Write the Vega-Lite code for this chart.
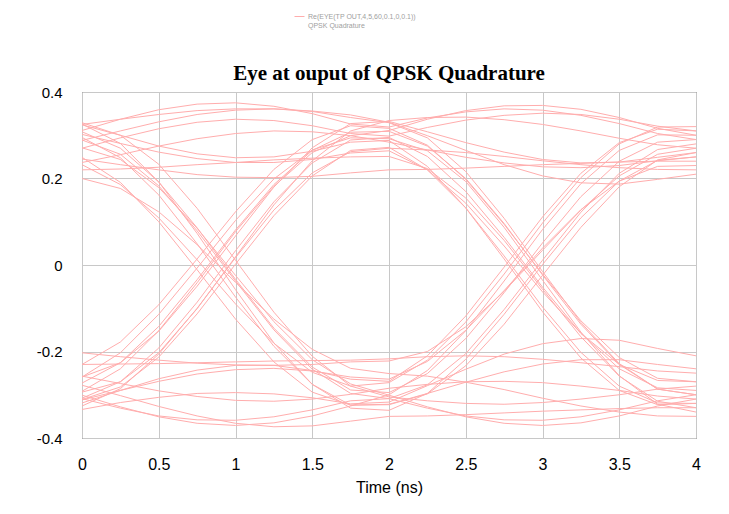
{
"$schema": "https://vega.github.io/schema/vega-lite/v6.json",
"width": 614, "height": 346,
"autosize": {"type": "none"},
"padding": {"left": 82, "top": 92, "right": 33, "bottom": 76},
"background": "white",
"title": {"text": "Eye at ouput of QPSK Quadrature", "font": "Liberation Serif", "fontSize": 21, "fontWeight": "bold", "color": "black", "offset": 10, "dy": 83, "anchor": "middle"},
"datasets": {"eye": [
{"k":1,"t":0,"v":0.311},{"k":1,"t":0.25,"v":0.337},{"k":1,"t":0.5,"v":0.359},{"k":1,"t":0.75,"v":0.372},{"k":1,"t":1,"v":0.375},{"k":1,"t":1.25,"v":0.367},{"k":1,"t":1.5,"v":0.35},{"k":1,"t":1.75,"v":0.326},{"k":1,"t":2,"v":0.319},{"k":1,"t":2.25,"v":0.34},{"k":1,"t":2.5,"v":0.354},{"k":1,"t":2.75,"v":0.361},{"k":1,"t":3,"v":0.358},{"k":1,"t":3.25,"v":0.346},{"k":1,"t":3.5,"v":0.327},{"k":1,"t":3.75,"v":0.304},{"k":1,"t":4,"v":0.29},
{"k":2,"t":0,"v":0.245},{"k":2,"t":0.25,"v":0.232},{"k":2,"t":0.5,"v":0.22},{"k":2,"t":0.75,"v":0.209},{"k":2,"t":1,"v":0.203},{"k":2,"t":1.25,"v":0.202},{"k":2,"t":1.5,"v":0.205},{"k":2,"t":1.75,"v":0.213},{"k":2,"t":2,"v":0.22},{"k":2,"t":2.25,"v":0.221},{"k":2,"t":2.5,"v":0.224},{"k":2,"t":2.75,"v":0.228},{"k":2,"t":3,"v":0.232},{"k":2,"t":3.25,"v":0.235},{"k":2,"t":3.5,"v":0.238},{"k":2,"t":3.75,"v":0.24},{"k":2,"t":4,"v":0.24},
{"k":3,"t":0,"v":0.325},{"k":3,"t":0.25,"v":0.337},{"k":3,"t":0.5,"v":0.348},{"k":3,"t":0.75,"v":0.357},{"k":3,"t":1,"v":0.361},{"k":3,"t":1.25,"v":0.361},{"k":3,"t":1.5,"v":0.356},{"k":3,"t":1.75,"v":0.347},{"k":3,"t":2,"v":0.33},{"k":3,"t":2.25,"v":0.299},{"k":3,"t":2.5,"v":0.265},{"k":3,"t":2.75,"v":0.232},{"k":3,"t":3,"v":0.206},{"k":3,"t":3.25,"v":0.19},{"k":3,"t":3.5,"v":0.187},{"k":3,"t":3.75,"v":0.198},{"k":3,"t":4,"v":0.21},
{"k":4,"t":0,"v":0.288},{"k":4,"t":0.25,"v":0.31},{"k":4,"t":0.5,"v":0.331},{"k":4,"t":0.75,"v":0.348},{"k":4,"t":1,"v":0.358},{"k":4,"t":1.25,"v":0.361},{"k":4,"t":1.5,"v":0.355},{"k":4,"t":1.75,"v":0.341},{"k":4,"t":2,"v":0.329},{"k":4,"t":2.25,"v":0.294},{"k":4,"t":2.5,"v":0.216},{"k":4,"t":2.75,"v":0.108},{"k":4,"t":3,"v":-0.015},{"k":4,"t":3.25,"v":-0.133},{"k":4,"t":3.5,"v":-0.228},{"k":4,"t":3.75,"v":-0.287},{"k":4,"t":4,"v":-0.3},
{"k":5,"t":0,"v":0.22},{"k":5,"t":0.25,"v":0.222},{"k":5,"t":0.5,"v":0.226},{"k":5,"t":0.75,"v":0.232},{"k":5,"t":1,"v":0.237},{"k":5,"t":1.25,"v":0.243},{"k":5,"t":1.5,"v":0.247},{"k":5,"t":1.75,"v":0.25},{"k":5,"t":2,"v":0.251},{"k":5,"t":2.25,"v":0.223},{"k":5,"t":2.5,"v":0.155},{"k":5,"t":2.75,"v":0.057},{"k":5,"t":3,"v":-0.056},{"k":5,"t":3.25,"v":-0.166},{"k":5,"t":3.5,"v":-0.257},{"k":5,"t":3.75,"v":-0.315},{"k":5,"t":4,"v":-0.33},
{"k":6,"t":0,"v":0.302},{"k":6,"t":0.25,"v":0.281},{"k":6,"t":0.5,"v":0.261},{"k":6,"t":0.75,"v":0.246},{"k":6,"t":1,"v":0.237},{"k":6,"t":1.25,"v":0.237},{"k":6,"t":1.5,"v":0.244},{"k":6,"t":1.75,"v":0.259},{"k":6,"t":2,"v":0.264},{"k":6,"t":2.25,"v":0.22},{"k":6,"t":2.5,"v":0.143},{"k":6,"t":2.75,"v":0.044},{"k":6,"t":3,"v":-0.062},{"k":6,"t":3.25,"v":-0.158},{"k":6,"t":3.5,"v":-0.23},{"k":6,"t":3.75,"v":-0.267},{"k":6,"t":4,"v":-0.27},
{"k":7,"t":0,"v":0.289},{"k":7,"t":0.25,"v":0.256},{"k":7,"t":0.5,"v":0.183},{"k":7,"t":0.75,"v":0.079},{"k":7,"t":1,"v":-0.037},{"k":7,"t":1.25,"v":-0.15},{"k":7,"t":1.5,"v":-0.241},{"k":7,"t":1.75,"v":-0.297},{"k":7,"t":2,"v":-0.309},{"k":7,"t":2.25,"v":-0.277},{"k":7,"t":2.5,"v":-0.205},{"k":7,"t":2.75,"v":-0.103},{"k":7,"t":3,"v":0.011},{"k":7,"t":3.25,"v":0.122},{"k":7,"t":3.5,"v":0.212},{"k":7,"t":3.75,"v":0.267},{"k":7,"t":4,"v":0.28},
{"k":8,"t":0,"v":0.232},{"k":8,"t":0.25,"v":0.186},{"k":8,"t":0.5,"v":0.109},{"k":8,"t":0.75,"v":0.012},{"k":8,"t":1,"v":-0.09},{"k":8,"t":1.25,"v":-0.181},{"k":8,"t":1.5,"v":-0.248},{"k":8,"t":1.75,"v":-0.28},{"k":8,"t":2,"v":-0.272},{"k":8,"t":2.25,"v":-0.22},{"k":8,"t":2.5,"v":-0.132},{"k":8,"t":2.75,"v":-0.021},{"k":8,"t":3,"v":0.097},{"k":8,"t":3.25,"v":0.202},{"k":8,"t":3.5,"v":0.28},{"k":8,"t":3.75,"v":0.319},{"k":8,"t":4,"v":0.32},
{"k":9,"t":0,"v":0.326},{"k":9,"t":0.25,"v":0.281},{"k":9,"t":0.5,"v":0.192},{"k":9,"t":0.75,"v":0.073},{"k":9,"t":1,"v":-0.057},{"k":9,"t":1.25,"v":-0.18},{"k":9,"t":1.5,"v":-0.276},{"k":9,"t":1.75,"v":-0.331},{"k":9,"t":2,"v":-0.336},{"k":9,"t":2.25,"v":-0.297},{"k":9,"t":2.5,"v":-0.218},{"k":9,"t":2.75,"v":-0.114},{"k":9,"t":3,"v":0.001},{"k":9,"t":3.25,"v":0.109},{"k":9,"t":3.5,"v":0.194},{"k":9,"t":3.75,"v":0.242},{"k":9,"t":4,"v":0.25},
{"k":10,"t":0,"v":0.271},{"k":10,"t":0.25,"v":0.244},{"k":10,"t":0.5,"v":0.179},{"k":10,"t":0.75,"v":0.085},{"k":10,"t":1,"v":-0.024},{"k":10,"t":1.25,"v":-0.131},{"k":10,"t":1.5,"v":-0.219},{"k":10,"t":1.75,"v":-0.275},{"k":10,"t":2,"v":-0.301},{"k":10,"t":2.25,"v":-0.328},{"k":10,"t":2.5,"v":-0.351},{"k":10,"t":2.75,"v":-0.366},{"k":10,"t":3,"v":-0.371},{"k":10,"t":3.25,"v":-0.365},{"k":10,"t":3.5,"v":-0.349},{"k":10,"t":3.75,"v":-0.326},{"k":10,"t":4,"v":-0.31},
{"k":11,"t":0,"v":0.295},{"k":11,"t":0.25,"v":0.248},{"k":11,"t":0.5,"v":0.162},{"k":11,"t":0.75,"v":0.049},{"k":11,"t":1,"v":-0.074},{"k":11,"t":1.25,"v":-0.188},{"k":11,"t":1.5,"v":-0.276},{"k":11,"t":1.75,"v":-0.324},{"k":11,"t":2,"v":-0.322},{"k":11,"t":2.25,"v":-0.297},{"k":11,"t":2.5,"v":-0.271},{"k":11,"t":2.75,"v":-0.247},{"k":11,"t":3,"v":-0.229},{"k":11,"t":3.25,"v":-0.219},{"k":11,"t":3.5,"v":-0.219},{"k":11,"t":3.75,"v":-0.23},{"k":11,"t":4,"v":-0.24},
{"k":12,"t":0,"v":0.2},{"k":12,"t":0.25,"v":0.177},{"k":12,"t":0.5,"v":0.123},{"k":12,"t":0.75,"v":0.047},{"k":12,"t":1,"v":-0.04},{"k":12,"t":1.25,"v":-0.125},{"k":12,"t":1.5,"v":-0.195},{"k":12,"t":1.75,"v":-0.239},{"k":12,"t":2,"v":-0.251},{"k":12,"t":2.25,"v":-0.257},{"k":12,"t":2.5,"v":-0.271},{"k":12,"t":2.75,"v":-0.288},{"k":12,"t":3,"v":-0.308},{"k":12,"t":3.25,"v":-0.326},{"k":12,"t":3.5,"v":-0.34},{"k":12,"t":3.75,"v":-0.349},{"k":12,"t":4,"v":-0.35},
{"k":13,"t":0,"v":-0.292},{"k":13,"t":0.25,"v":-0.24},{"k":13,"t":0.5,"v":-0.152},{"k":13,"t":0.75,"v":-0.041},{"k":13,"t":1,"v":0.077},{"k":13,"t":1.25,"v":0.182},{"k":13,"t":1.5,"v":0.26},{"k":13,"t":1.75,"v":0.299},{"k":13,"t":2,"v":0.311},{"k":13,"t":2.25,"v":0.337},{"k":13,"t":2.5,"v":0.357},{"k":13,"t":2.75,"v":0.368},{"k":13,"t":3,"v":0.369},{"k":13,"t":3.25,"v":0.36},{"k":13,"t":3.5,"v":0.341},{"k":13,"t":3.75,"v":0.316},{"k":13,"t":4,"v":0.3},
{"k":14,"t":0,"v":-0.259},{"k":14,"t":0.25,"v":-0.226},{"k":14,"t":0.5,"v":-0.153},{"k":14,"t":0.75,"v":-0.049},{"k":14,"t":1,"v":0.067},{"k":14,"t":1.25,"v":0.18},{"k":14,"t":1.5,"v":0.271},{"k":14,"t":1.75,"v":0.327},{"k":14,"t":2,"v":0.332},{"k":14,"t":2.25,"v":0.308},{"k":14,"t":2.5,"v":0.283},{"k":14,"t":2.75,"v":0.261},{"k":14,"t":3,"v":0.244},{"k":14,"t":3.25,"v":0.236},{"k":14,"t":3.5,"v":0.238},{"k":14,"t":3.75,"v":0.249},{"k":14,"t":4,"v":0.26},
{"k":15,"t":0,"v":-0.326},{"k":15,"t":0.25,"v":-0.286},{"k":15,"t":0.5,"v":-0.206},{"k":15,"t":0.75,"v":-0.1},{"k":15,"t":1,"v":0.017},{"k":15,"t":1.25,"v":0.127},{"k":15,"t":1.5,"v":0.213},{"k":15,"t":1.75,"v":0.262},{"k":15,"t":2,"v":0.27},{"k":15,"t":2.25,"v":0.266},{"k":15,"t":2.5,"v":0.26},{"k":15,"t":2.75,"v":0.251},{"k":15,"t":3,"v":0.241},{"k":15,"t":3.25,"v":0.232},{"k":15,"t":3.5,"v":0.225},{"k":15,"t":3.75,"v":0.221},{"k":15,"t":4,"v":0.22},
{"k":16,"t":0,"v":-0.273},{"k":16,"t":0.25,"v":-0.226},{"k":16,"t":0.5,"v":-0.142},{"k":16,"t":0.75,"v":-0.034},{"k":16,"t":1,"v":0.081},{"k":16,"t":1.25,"v":0.186},{"k":16,"t":1.5,"v":0.265},{"k":16,"t":1.75,"v":0.307},{"k":16,"t":2,"v":0.309},{"k":16,"t":2.25,"v":0.275},{"k":16,"t":2.5,"v":0.2},{"k":16,"t":2.75,"v":0.096},{"k":16,"t":3,"v":-0.023},{"k":16,"t":3.25,"v":-0.137},{"k":16,"t":3.5,"v":-0.23},{"k":16,"t":3.75,"v":-0.287},{"k":16,"t":4,"v":-0.3},
{"k":17,"t":0,"v":-0.311},{"k":17,"t":0.25,"v":-0.282},{"k":17,"t":0.5,"v":-0.213},{"k":17,"t":0.75,"v":-0.113},{"k":17,"t":1,"v":0.002},{"k":17,"t":1.25,"v":0.114},{"k":17,"t":1.5,"v":0.206},{"k":17,"t":1.75,"v":0.265},{"k":17,"t":2,"v":0.272},{"k":17,"t":2.25,"v":0.22},{"k":17,"t":2.5,"v":0.132},{"k":17,"t":2.75,"v":0.021},{"k":17,"t":3,"v":-0.097},{"k":17,"t":3.25,"v":-0.202},{"k":17,"t":3.5,"v":-0.28},{"k":17,"t":3.75,"v":-0.319},{"k":17,"t":4,"v":-0.32},
{"k":18,"t":0,"v":-0.23},{"k":18,"t":0.25,"v":-0.178},{"k":18,"t":0.5,"v":-0.092},{"k":18,"t":0.75,"v":0.014},{"k":18,"t":1,"v":0.123},{"k":18,"t":1.25,"v":0.221},{"k":18,"t":1.5,"v":0.29},{"k":18,"t":1.75,"v":0.322},{"k":18,"t":2,"v":0.316},{"k":18,"t":2.25,"v":0.277},{"k":18,"t":2.5,"v":0.198},{"k":18,"t":2.75,"v":0.094},{"k":18,"t":3,"v":-0.021},{"k":18,"t":3.25,"v":-0.129},{"k":18,"t":3.5,"v":-0.214},{"k":18,"t":3.75,"v":-0.262},{"k":18,"t":4,"v":-0.27},
{"k":19,"t":0,"v":-0.301},{"k":19,"t":0.25,"v":-0.328},{"k":19,"t":0.5,"v":-0.351},{"k":19,"t":0.75,"v":-0.366},{"k":19,"t":1,"v":-0.371},{"k":19,"t":1.25,"v":-0.365},{"k":19,"t":1.5,"v":-0.349},{"k":19,"t":1.75,"v":-0.326},{"k":19,"t":2,"v":-0.3},{"k":19,"t":2.25,"v":-0.244},{"k":19,"t":2.5,"v":-0.152},{"k":19,"t":2.75,"v":-0.037},{"k":19,"t":3,"v":0.082},{"k":19,"t":3.25,"v":0.188},{"k":19,"t":3.5,"v":0.265},{"k":19,"t":3.75,"v":0.301},{"k":19,"t":4,"v":0.3},
{"k":20,"t":0,"v":-0.203},{"k":20,"t":0.25,"v":-0.212},{"k":20,"t":0.5,"v":-0.22},{"k":20,"t":0.75,"v":-0.227},{"k":20,"t":1,"v":-0.231},{"k":20,"t":1.25,"v":-0.232},{"k":20,"t":1.5,"v":-0.23},{"k":20,"t":1.75,"v":-0.224},{"k":20,"t":2,"v":-0.222},{"k":20,"t":2.25,"v":-0.2},{"k":20,"t":2.5,"v":-0.143},{"k":20,"t":2.75,"v":-0.061},{"k":20,"t":3,"v":0.034},{"k":20,"t":3.25,"v":0.127},{"k":20,"t":3.5,"v":0.206},{"k":20,"t":3.75,"v":0.256},{"k":20,"t":4,"v":0.27},
{"k":21,"t":0,"v":-0.312},{"k":21,"t":0.25,"v":-0.29},{"k":21,"t":0.5,"v":-0.269},{"k":21,"t":0.75,"v":-0.252},{"k":21,"t":1,"v":-0.242},{"k":21,"t":1.25,"v":-0.239},{"k":21,"t":1.5,"v":-0.245},{"k":21,"t":1.75,"v":-0.259},{"k":21,"t":2,"v":-0.264},{"k":21,"t":2.25,"v":-0.223},{"k":21,"t":2.5,"v":-0.151},{"k":21,"t":2.75,"v":-0.059},{"k":21,"t":3,"v":0.039},{"k":21,"t":3.25,"v":0.128},{"k":21,"t":3.5,"v":0.194},{"k":21,"t":3.75,"v":0.228},{"k":21,"t":4,"v":0.23},
{"k":22,"t":0,"v":-0.309},{"k":22,"t":0.25,"v":-0.331},{"k":22,"t":0.5,"v":-0.349},{"k":22,"t":0.75,"v":-0.358},{"k":22,"t":1,"v":-0.359},{"k":22,"t":1.25,"v":-0.351},{"k":22,"t":1.5,"v":-0.335},{"k":22,"t":1.75,"v":-0.314},{"k":22,"t":2,"v":-0.309},{"k":22,"t":2.25,"v":-0.331},{"k":22,"t":2.5,"v":-0.349},{"k":22,"t":2.75,"v":-0.358},{"k":22,"t":3,"v":-0.359},{"k":22,"t":3.25,"v":-0.351},{"k":22,"t":3.5,"v":-0.335},{"k":22,"t":3.75,"v":-0.314},{"k":22,"t":4,"v":-0.3},
{"k":23,"t":0,"v":-0.23},{"k":23,"t":0.25,"v":-0.229},{"k":23,"t":0.5,"v":-0.228},{"k":23,"t":0.75,"v":-0.226},{"k":23,"t":1,"v":-0.224},{"k":23,"t":1.25,"v":-0.222},{"k":23,"t":1.5,"v":-0.221},{"k":23,"t":1.75,"v":-0.22},{"k":23,"t":2,"v":-0.217},{"k":23,"t":2.25,"v":-0.212},{"k":23,"t":2.5,"v":-0.21},{"k":23,"t":2.75,"v":-0.212},{"k":23,"t":3,"v":-0.218},{"k":23,"t":3.25,"v":-0.226},{"k":23,"t":3.5,"v":-0.235},{"k":23,"t":3.75,"v":-0.245},{"k":23,"t":4,"v":-0.25},
{"k":24,"t":0,"v":-0.334},{"k":24,"t":0.25,"v":-0.318},{"k":24,"t":0.5,"v":-0.306},{"k":24,"t":0.75,"v":-0.297},{"k":24,"t":1,"v":-0.295},{"k":24,"t":1.25,"v":-0.298},{"k":24,"t":1.5,"v":-0.307},{"k":24,"t":1.75,"v":-0.321},{"k":24,"t":2,"v":-0.317},{"k":24,"t":2.25,"v":-0.279},{"k":24,"t":2.5,"v":-0.241},{"k":24,"t":2.75,"v":-0.206},{"k":24,"t":3,"v":-0.182},{"k":24,"t":3.25,"v":-0.17},{"k":24,"t":3.5,"v":-0.174},{"k":24,"t":3.75,"v":-0.193},{"k":24,"t":4,"v":-0.21},
{"k":25,"t":0,"v":0.27},{"k":25,"t":0.25,"v":0.294},{"k":25,"t":0.5,"v":0.315},{"k":25,"t":0.75,"v":0.33},{"k":25,"t":1,"v":0.337},{"k":25,"t":1.25,"v":0.334},{"k":25,"t":1.5,"v":0.322},{"k":25,"t":1.75,"v":0.304},{"k":25,"t":2,"v":0.298},{"k":25,"t":2.25,"v":0.318},{"k":25,"t":2.5,"v":0.335},{"k":25,"t":2.75,"v":0.346},{"k":25,"t":3,"v":0.351},{"k":25,"t":3.25,"v":0.348},{"k":25,"t":3.5,"v":0.337},{"k":25,"t":3.75,"v":0.321},{"k":25,"t":4,"v":0.31},
{"k":26,"t":0,"v":-0.278},{"k":26,"t":0.25,"v":-0.302},{"k":26,"t":0.5,"v":-0.327},{"k":26,"t":0.75,"v":-0.349},{"k":26,"t":1,"v":-0.366},{"k":26,"t":1.25,"v":-0.374},{"k":26,"t":1.5,"v":-0.372},{"k":26,"t":1.75,"v":-0.361},{"k":26,"t":2,"v":-0.35},{"k":26,"t":2.25,"v":-0.349},{"k":26,"t":2.5,"v":-0.346},{"k":26,"t":2.75,"v":-0.342},{"k":26,"t":3,"v":-0.338},{"k":26,"t":3.25,"v":-0.335},{"k":26,"t":3.5,"v":-0.332},{"k":26,"t":3.75,"v":-0.33},{"k":26,"t":4,"v":-0.33},
{"k":27,"t":0,"v":0.308},{"k":27,"t":0.25,"v":0.27},{"k":27,"t":0.5,"v":0.192},{"k":27,"t":0.75,"v":0.086},{"k":27,"t":1,"v":-0.033},{"k":27,"t":1.25,"v":-0.146},{"k":27,"t":1.5,"v":-0.236},{"k":27,"t":1.75,"v":-0.289},{"k":27,"t":2,"v":-0.295},{"k":27,"t":2.25,"v":-0.251},{"k":27,"t":2.5,"v":-0.17},{"k":27,"t":2.75,"v":-0.064},{"k":27,"t":3,"v":0.051},{"k":27,"t":3.25,"v":0.158},{"k":27,"t":3.5,"v":0.24},{"k":27,"t":3.75,"v":0.284},{"k":27,"t":4,"v":0.29},
{"k":28,"t":0,"v":-0.308},{"k":28,"t":0.25,"v":-0.27},{"k":28,"t":0.5,"v":-0.192},{"k":28,"t":0.75,"v":-0.086},{"k":28,"t":1,"v":0.033},{"k":28,"t":1.25,"v":0.146},{"k":28,"t":1.5,"v":0.236},{"k":28,"t":1.75,"v":0.289},{"k":28,"t":2,"v":0.295},{"k":28,"t":2.25,"v":0.251},{"k":28,"t":2.5,"v":0.17},{"k":28,"t":2.75,"v":0.064},{"k":28,"t":3,"v":-0.051},{"k":28,"t":3.25,"v":-0.158},{"k":28,"t":3.5,"v":-0.24},{"k":28,"t":3.75,"v":-0.284},{"k":28,"t":4,"v":-0.29},
{"k":29,"t":0,"v":0.237},{"k":29,"t":0.25,"v":0.255},{"k":29,"t":0.5,"v":0.275},{"k":29,"t":0.75,"v":0.292},{"k":29,"t":1,"v":0.304},{"k":29,"t":1.25,"v":0.31},{"k":29,"t":1.5,"v":0.308},{"k":29,"t":1.75,"v":0.299},{"k":29,"t":2,"v":0.284},{"k":29,"t":2.25,"v":0.266},{"k":29,"t":2.5,"v":0.249},{"k":29,"t":2.75,"v":0.236},{"k":29,"t":3,"v":0.227},{"k":29,"t":3.25,"v":0.225},{"k":29,"t":3.5,"v":0.23},{"k":29,"t":3.75,"v":0.241},{"k":29,"t":4,"v":0.25},
{"k":30,"t":0,"v":-0.257},{"k":30,"t":0.25,"v":-0.274},{"k":30,"t":0.5,"v":-0.291},{"k":30,"t":0.75,"v":-0.304},{"k":30,"t":1,"v":-0.313},{"k":30,"t":1.25,"v":-0.315},{"k":30,"t":1.5,"v":-0.31},{"k":30,"t":1.75,"v":-0.299},{"k":30,"t":2,"v":-0.285},{"k":30,"t":2.25,"v":-0.276},{"k":30,"t":2.5,"v":-0.27},{"k":30,"t":2.75,"v":-0.269},{"k":30,"t":3,"v":-0.272},{"k":30,"t":3.25,"v":-0.28},{"k":30,"t":3.5,"v":-0.29},{"k":30,"t":3.75,"v":-0.303},{"k":30,"t":4,"v":-0.31},
{"k":31,"t":0,"v":0.324},{"k":31,"t":0.25,"v":0.3},{"k":31,"t":0.5,"v":0.233},{"k":31,"t":0.75,"v":0.131},{"k":31,"t":1,"v":0.011},{"k":31,"t":1.25,"v":-0.109},{"k":31,"t":1.5,"v":-0.211},{"k":31,"t":1.75,"v":-0.28},{"k":31,"t":2,"v":-0.305},{"k":31,"t":2.25,"v":-0.314},{"k":31,"t":2.5,"v":-0.32},{"k":31,"t":2.75,"v":-0.322},{"k":31,"t":3,"v":-0.318},{"k":31,"t":3.25,"v":-0.31},{"k":31,"t":3.5,"v":-0.3},{"k":31,"t":3.75,"v":-0.287},{"k":31,"t":4,"v":-0.28},
{"k":32,"t":0,"v":-0.294},{"k":32,"t":0.25,"v":-0.27},{"k":32,"t":0.5,"v":-0.203},{"k":32,"t":0.75,"v":-0.101},{"k":32,"t":1,"v":0.019},{"k":32,"t":1.25,"v":0.139},{"k":32,"t":1.5,"v":0.241},{"k":32,"t":1.75,"v":0.31},{"k":32,"t":2,"v":0.334},{"k":32,"t":2.25,"v":0.341},{"k":32,"t":2.5,"v":0.342},{"k":32,"t":2.75,"v":0.336},{"k":32,"t":3,"v":0.325},{"k":32,"t":3.25,"v":0.31},{"k":32,"t":3.5,"v":0.293},{"k":32,"t":3.75,"v":0.278},{"k":32,"t":4,"v":0.27},
{"k":33,"t":0,"v":0.329},{"k":33,"t":0.25,"v":0.3},{"k":33,"t":0.5,"v":0.275},{"k":33,"t":0.75,"v":0.257},{"k":33,"t":1,"v":0.248},{"k":33,"t":1.25,"v":0.25},{"k":33,"t":1.5,"v":0.263},{"k":33,"t":1.75,"v":0.284},{"k":33,"t":2,"v":0.288},{"k":33,"t":2.25,"v":0.228},{"k":33,"t":2.5,"v":0.132},{"k":33,"t":2.75,"v":0.014},{"k":33,"t":3,"v":-0.108},{"k":33,"t":3.25,"v":-0.215},{"k":33,"t":3.5,"v":-0.29},{"k":33,"t":3.75,"v":-0.323},{"k":33,"t":4,"v":-0.32},
{"k":34,"t":0,"v":-0.319},{"k":34,"t":0.25,"v":-0.29},{"k":34,"t":0.5,"v":-0.263},{"k":34,"t":0.75,"v":-0.243},{"k":34,"t":1,"v":-0.232},{"k":34,"t":1.25,"v":-0.232},{"k":34,"t":1.5,"v":-0.244},{"k":34,"t":1.75,"v":-0.264},{"k":34,"t":2,"v":-0.269},{"k":34,"t":2.25,"v":-0.21},{"k":34,"t":2.5,"v":-0.118},{"k":34,"t":2.75,"v":-0.005},{"k":34,"t":3,"v":0.111},{"k":34,"t":3.25,"v":0.212},{"k":34,"t":3.5,"v":0.283},{"k":34,"t":3.75,"v":0.314},{"k":34,"t":4,"v":0.31},
{"k":35,"t":0,"v":0.249},{"k":35,"t":0.25,"v":0.191},{"k":35,"t":0.5,"v":0.1},{"k":35,"t":0.75,"v":-0.011},{"k":35,"t":1,"v":-0.125},{"k":35,"t":1.25,"v":-0.224},{"k":35,"t":1.5,"v":-0.294},{"k":35,"t":1.75,"v":-0.324},{"k":35,"t":2,"v":-0.323},{"k":35,"t":2.25,"v":-0.298},{"k":35,"t":2.5,"v":-0.233},{"k":35,"t":2.75,"v":-0.137},{"k":35,"t":3,"v":-0.024},{"k":35,"t":3.25,"v":0.087},{"k":35,"t":3.5,"v":0.181},{"k":35,"t":3.75,"v":0.243},{"k":35,"t":4,"v":0.26},
{"k":36,"t":0,"v":-0.259},{"k":36,"t":0.25,"v":-0.203},{"k":36,"t":0.5,"v":-0.114},{"k":36,"t":0.75,"v":-0.007},{"k":36,"t":1,"v":0.103},{"k":36,"t":1.25,"v":0.199},{"k":36,"t":1.5,"v":0.266},{"k":36,"t":1.75,"v":0.294},{"k":36,"t":2,"v":0.292},{"k":36,"t":2.25,"v":0.264},{"k":36,"t":2.5,"v":0.193},{"k":36,"t":2.75,"v":0.087},{"k":36,"t":3,"v":-0.035},{"k":36,"t":3.25,"v":-0.155},{"k":36,"t":3.5,"v":-0.256},{"k":36,"t":3.75,"v":-0.322},{"k":36,"t":4,"v":-0.34}
]},
"data": {"name": "eye"},
"mark": {"type": "line", "strokeWidth": 1, "interpolate": "linear"},
"encoding": {
  "x": {"field": "t", "type": "quantitative", "scale": {"domain": [0, 4], "nice": false, "zero": false},
        "axis": {"title": "Time (ns)", "values": [0, 0.5, 1, 1.5, 2, 2.5, 3, 3.5, 4], "labelExpr": "'' + datum.value", "domain": false, "ticks": false, "labelPadding": 18, "labelFont": "Liberation Sans", "labelFontSize": 16, "labelColor": "black", "labelFlush": false, "titleFont": "Liberation Sans", "titleFontSize": 16, "titleFontWeight": "normal", "titleColor": "black", "titlePadding": 7, "gridColor": "#c8c8c8", "gridOpacity": 1}},
  "y": {"field": "v", "type": "quantitative", "scale": {"domain": [-0.4, 0.4], "nice": false, "zero": false},
        "axis": {"title": null, "values": [-0.4, -0.2, 0, 0.2, 0.4], "labelExpr": "'' + datum.value", "domain": false, "ticks": false, "labelPadding": 20, "labelFont": "Liberation Sans", "labelFontSize": 15, "labelColor": "black", "labelFlush": false, "gridColor": "#c8c8c8", "gridOpacity": 1}},
  "detail": {"field": "k", "type": "nominal"},
  "color": {"datum": "Re(EYE(TP OUT,4,5,60,0.1,0,0.1))", "type": "nominal", "scale": {"range": ["#ffadad"]},
            "legend": {"title": null, "orient": "none", "legendX": 212, "legendY": -81, "symbolType": "stroke", "symbolSize": 100, "symbolStrokeWidth": 1, "labelFont": "Liberation Sans", "labelFontSize": 7, "labelColor": "#a0a0a0", "labelLimit": 0, "labelOffset": 3, "labelExpr": "['Re(EYE(TP OUT,4,5,60,0.1,0,0.1))', 'QPSK Quadrature']"}}
},
"config": {"view": {"stroke": "#333333", "strokeWidth": 1}}
}
